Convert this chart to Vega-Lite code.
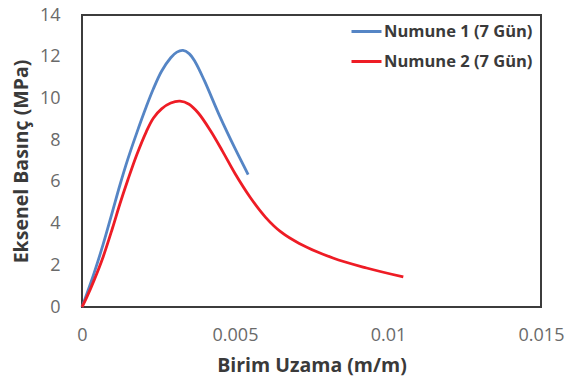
{
  "$schema": "https://vega.github.io/schema/vega-lite/v6.json",
  "width": 459,
  "height": 292,
  "autosize": {"type": "none"},
  "padding": {"left": 82, "top": 15, "right": 27, "bottom": 80},
  "background": "white",
  "config": {
    "font": "Open Sans",
    "view": {"stroke": "#3c3c3c", "strokeWidth": 2},
    "axis": {
      "grid": false,
      "domain": false,
      "ticks": false,
      "labelFont": "Open Sans",
      "labelFontSize": 18,
      "labelColor": "#6a6a6a",
      "titleFont": "Open Sans",
      "titleFontSize": 19.5,
      "titleFontWeight": "bold",
      "titleColor": "#3a3a3a"
    }
  },
  "data": {
    "values": [
      {"strain": 0, "stress": 0, "sample": "Numune 1 (7 Gün)"},
      {"strain": 0.00015, "stress": 0.6, "sample": "Numune 1 (7 Gün)"},
      {"strain": 0.0004, "stress": 1.65, "sample": "Numune 1 (7 Gün)"},
      {"strain": 0.00069, "stress": 3.0, "sample": "Numune 1 (7 Gün)"},
      {"strain": 0.001, "stress": 4.6, "sample": "Numune 1 (7 Gün)"},
      {"strain": 0.00124, "stress": 5.85, "sample": "Numune 1 (7 Gün)"},
      {"strain": 0.0015, "stress": 7.1, "sample": "Numune 1 (7 Gün)"},
      {"strain": 0.00179, "stress": 8.35, "sample": "Numune 1 (7 Gün)"},
      {"strain": 0.0021, "stress": 9.6, "sample": "Numune 1 (7 Gün)"},
      {"strain": 0.00233, "stress": 10.45, "sample": "Numune 1 (7 Gün)"},
      {"strain": 0.0026, "stress": 11.3, "sample": "Numune 1 (7 Gün)"},
      {"strain": 0.0029, "stress": 11.95, "sample": "Numune 1 (7 Gün)"},
      {"strain": 0.0031, "stress": 12.22, "sample": "Numune 1 (7 Gün)"},
      {"strain": 0.0033, "stress": 12.3, "sample": "Numune 1 (7 Gün)"},
      {"strain": 0.0035, "stress": 12.15, "sample": "Numune 1 (7 Gün)"},
      {"strain": 0.0037, "stress": 11.75, "sample": "Numune 1 (7 Gün)"},
      {"strain": 0.004, "stress": 10.85, "sample": "Numune 1 (7 Gün)"},
      {"strain": 0.0045, "stress": 9.15, "sample": "Numune 1 (7 Gün)"},
      {"strain": 0.005, "stress": 7.6, "sample": "Numune 1 (7 Gün)"},
      {"strain": 0.00543, "stress": 6.35, "sample": "Numune 1 (7 Gün)"},
      {"strain": 0, "stress": 0, "sample": "Numune 2 (7 Gün)"},
      {"strain": 0.00015, "stress": 0.45, "sample": "Numune 2 (7 Gün)"},
      {"strain": 0.0004, "stress": 1.3, "sample": "Numune 2 (7 Gün)"},
      {"strain": 0.00069, "stress": 2.4, "sample": "Numune 2 (7 Gün)"},
      {"strain": 0.001, "stress": 3.8, "sample": "Numune 2 (7 Gün)"},
      {"strain": 0.00124, "stress": 4.95, "sample": "Numune 2 (7 Gün)"},
      {"strain": 0.0015, "stress": 6.1, "sample": "Numune 2 (7 Gün)"},
      {"strain": 0.00179, "stress": 7.3, "sample": "Numune 2 (7 Gün)"},
      {"strain": 0.0021, "stress": 8.4, "sample": "Numune 2 (7 Gün)"},
      {"strain": 0.00233, "stress": 9.05, "sample": "Numune 2 (7 Gün)"},
      {"strain": 0.0026, "stress": 9.5, "sample": "Numune 2 (7 Gün)"},
      {"strain": 0.0029, "stress": 9.78, "sample": "Numune 2 (7 Gün)"},
      {"strain": 0.0032, "stress": 9.87, "sample": "Numune 2 (7 Gün)"},
      {"strain": 0.0035, "stress": 9.72, "sample": "Numune 2 (7 Gün)"},
      {"strain": 0.0038, "stress": 9.3, "sample": "Numune 2 (7 Gün)"},
      {"strain": 0.0042, "stress": 8.45, "sample": "Numune 2 (7 Gün)"},
      {"strain": 0.0046, "stress": 7.45, "sample": "Numune 2 (7 Gün)"},
      {"strain": 0.005, "stress": 6.4, "sample": "Numune 2 (7 Gün)"},
      {"strain": 0.0055, "stress": 5.25, "sample": "Numune 2 (7 Gün)"},
      {"strain": 0.006, "stress": 4.3, "sample": "Numune 2 (7 Gün)"},
      {"strain": 0.0065, "stress": 3.6, "sample": "Numune 2 (7 Gün)"},
      {"strain": 0.0071, "stress": 3.05, "sample": "Numune 2 (7 Gün)"},
      {"strain": 0.0082, "stress": 2.35, "sample": "Numune 2 (7 Gün)"},
      {"strain": 0.0093, "stress": 1.87, "sample": "Numune 2 (7 Gün)"},
      {"strain": 0.0105, "stress": 1.44, "sample": "Numune 2 (7 Gün)"}
    ]
  },
  "mark": {"type": "line", "interpolate": "catmull-rom", "strokeWidth": 2.8},
  "encoding": {
    "x": {
      "field": "strain",
      "type": "quantitative",
      "scale": {"domain": [0, 0.015], "nice": false},
      "axis": {
        "values": [0, 0.005, 0.01, 0.015],
        "format": ".3~f",
        "labelFlush": false,
        "title": "Birim Uzama (m/m)",
        "labelPadding": 19,
        "titlePadding": 12
      }
    },
    "y": {
      "field": "stress",
      "type": "quantitative",
      "scale": {"domain": [0, 14], "nice": false},
      "axis": {
        "values": [0, 2, 4, 6, 8, 10, 12, 14],
        "title": "Eksenel Basınç (MPa)",
        "labelPadding": 22,
        "titlePadding": 8
      }
    },
    "color": {
      "field": "sample",
      "type": "nominal",
      "scale": {
        "domain": ["Numune 1 (7 Gün)", "Numune 2 (7 Gün)"],
        "range": ["#5585c5", "#ee1c25"]
      },
      "legend": {
        "title": null,
        "orient": "none",
        "legendX": 268,
        "legendY": 0,
        "symbolType": "stroke",
        "symbolSize": 900,
        "symbolStrokeWidth": 3,
        "rowPadding": 5,
        "labelOffset": 1,
        "labelFont": "Open Sans",
        "labelFontSize": 16.5,
        "labelFontWeight": "bold",
        "labelColor": "#3a3a3a"
      }
    }
  }
}
